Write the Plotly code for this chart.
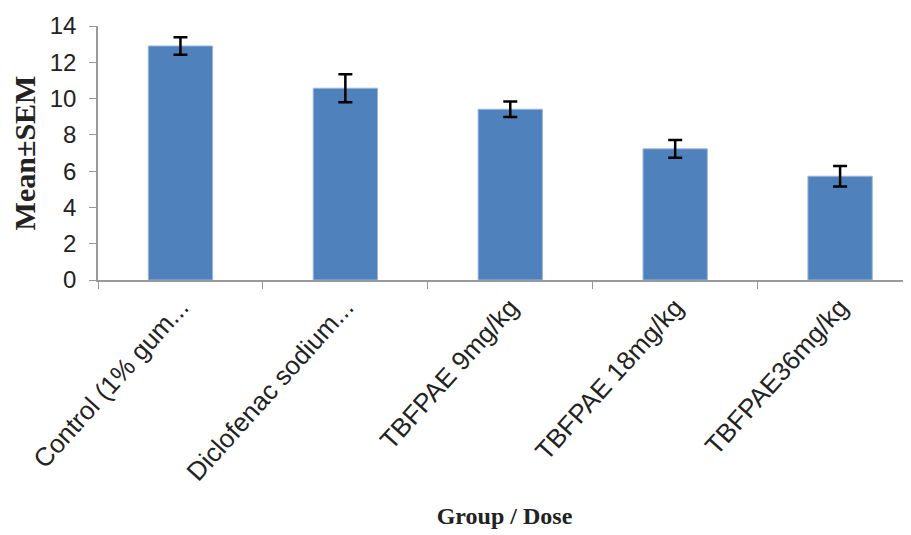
import plotly.graph_objects as go

categories = ["Control (1% gum...", "Diclofenac sodium...", "TBFPAE 9mg/kg",
              "TBFPAE 18mg/kg", "TBFPAE36mg/kg"]
means = [12.9, 10.57, 9.41, 7.23, 5.72]
sem = [0.48, 0.77, 0.43, 0.49, 0.57]
y_ticks = [0, 2, 4, 6, 8, 10, 12, 14]

fig = go.Figure()
fig.add_trace(go.Bar(
    x=categories, y=means,
    marker=dict(color="#4F81BD", line=dict(color="#9DB7DB", width=1)),
    width=0.39,
    error_y=dict(type="data", array=sem, visible=True, color="black",
                 thickness=2.5, width=7),
))

fig.update_layout(
    width=911, height=535,
    margin=dict(l=90, r=8, t=18, b=263),
    plot_bgcolor="white", paper_bgcolor="white",
    showlegend=False,
    font=dict(family="Liberation Sans", color="#222"),
    xaxis=dict(
        automargin=False,
        range=[-0.5, 4.43],
        showline=True, linecolor="#999", linewidth=1.5,
        ticks="outside", tickson="boundaries", ticklen=7, tickcolor="#999",
        tickangle=-48, tickfont=dict(size=26, family="Liberation Sans"),
        showgrid=False,
        title=dict(text="<b>Group / Dose</b>",
                   font=dict(family="Liberation Serif", size=24, color="#222"),
                   standoff=22),
    ),
    yaxis=dict(
        automargin=False,
        range=[0, 14], tickvals=y_ticks,
        showline=True, linecolor="#999", linewidth=1.5,
        ticks="outside", ticklen=7, tickcolor="#999",
        ticklabelstandoff=8,
        tickfont=dict(size=24),
        showgrid=False, zeroline=False,
        title=dict(text="<b>Mean±SEM</b>",
                   font=dict(family="Liberation Serif", size=30, color="#222"),
                   standoff=8),
    ),
)

fig.write_html("out.html")
